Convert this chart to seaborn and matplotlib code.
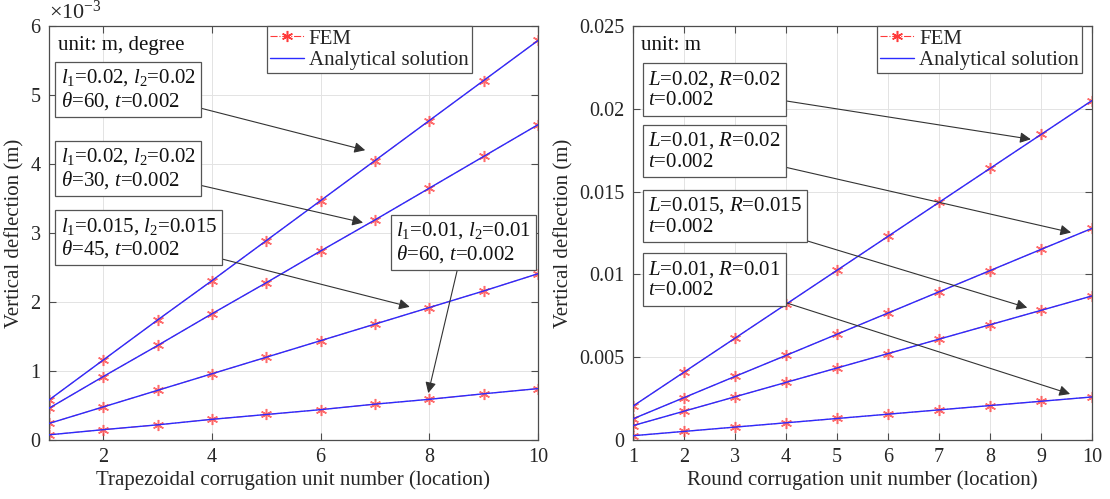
import numpy as np
import pandas as pd
import seaborn as sns
import matplotlib
matplotlib.use("Agg")
import matplotlib.pyplot as plt
from matplotlib.lines import Line2D
from matplotlib.ticker import FuncFormatter

sns.set_theme(style="white")
plt.rcParams['font.family'] = ['Liberation Serif', 'DejaVu Serif']
plt.rcParams['mathtext.fontset'] = 'custom'
plt.rcParams['mathtext.rm'] = 'Liberation Serif'
plt.rcParams['mathtext.it'] = 'Liberation Serif:italic'

# ---------------- data ----------------
units = [1, 2, 3, 4, 5, 6, 7, 8, 9, 10]

# Trapezoidal (values in m)
trap_a = [0.58e-3, 1.16e-3, 1.74e-3, 2.31e-3, 2.89e-3, 3.47e-3, 4.05e-3, 4.63e-3, 5.21e-3, 5.79e-3]
trap_b = [0.46e-3, 0.92e-3, 1.37e-3, 1.83e-3, 2.28e-3, 2.74e-3, 3.19e-3, 3.65e-3, 4.11e-3, 4.57e-3]
trap_c = [0.24e-3, 0.48e-3, 0.72e-3, 0.96e-3, 1.20e-3, 1.44e-3, 1.68e-3, 1.92e-3, 2.16e-3, 2.41e-3]
trap_d = [0.075e-3, 0.15e-3, 0.22e-3, 0.30e-3, 0.37e-3, 0.44e-3, 0.52e-3, 0.59e-3, 0.67e-3, 0.745e-3]

# Round (values in m)
round_a = [0.00205, 0.0041, 0.00615, 0.0082, 0.01025, 0.0123, 0.01435, 0.0164, 0.01845, 0.0205]
round_b = [0.00128, 0.00256, 0.00384, 0.00511, 0.00639, 0.00767, 0.00895, 0.01023, 0.01151, 0.01278]
round_c = [0.00087, 0.00174, 0.00261, 0.00348, 0.00435, 0.00522, 0.00609, 0.00696, 0.00783, 0.0087]
round_d = [0.00026, 0.00052, 0.00078, 0.00104, 0.0013, 0.00156, 0.00182, 0.00208, 0.00234, 0.0026]

trap_labels = [r"$l_{\mathregular{1}}$=0.02, $l_{\mathregular{2}}$=0.02" "\n" r"$\theta$=60, $t$=0.002",
               r"$l_{\mathregular{1}}$=0.02, $l_{\mathregular{2}}$=0.02" "\n" r"$\theta$=30, $t$=0.002",
               r"$l_{\mathregular{1}}$=0.015, $l_{\mathregular{2}}$=0.015" "\n" r"$\theta$=45, $t$=0.002",
               r"$l_{\mathregular{1}}$=0.01, $l_{\mathregular{2}}$=0.01" "\n" r"$\theta$=60, $t$=0.002"]
round_labels = [r"$L$=0.02, $R$=0.02" "\n" r"$t$=0.002",
                r"$L$=0.01, $R$=0.02" "\n" r"$t$=0.002",
                r"$L$=0.015, $R$=0.015" "\n" r"$t$=0.002",
                r"$L$=0.01, $R$=0.01" "\n" r"$t$=0.002"]

# arrow targets (data) and text box anchors (axes fraction)
trap_targets = [(6.82, 4.20e-3), (6.78, 3.15e-3), (7.64, 1.93e-3), (7.98, 0.68e-3)]
trap_text_pos = [(0.024, 0.900), (0.024, 0.709), (0.024, 0.542), (0.710, 0.530)]
round_targets = [(8.80, 0.01816), (9.59, 0.01253), (8.73, 0.00799), (9.57, 0.00278)]
round_text_pos = [(0.033, 0.896), (0.033, 0.748), (0.033, 0.591), (0.033, 0.437)]

FS = 15
TFS = 14.5
BLUE = "#2b2bff"
RED = "#ff3b3b"
AST = (6, 2, 0)

fig = plt.figure(figsize=(11.1, 4.99), dpi=100)
ax1 = fig.add_axes([0.0441, 0.1182, 0.4406, 0.8297])
ax2 = fig.add_axes([0.5703, 0.1182, 0.4135, 0.8297])


def draw_panel(ax, series):
    for s in series:
        sns.lineplot(x=units, y=s, ax=ax, color=RED, linestyle="-.", lw=0.8,
                     marker=AST, markersize=8, markeredgecolor=RED, markeredgewidth=1.1,
                     alpha=0.75, zorder=2)
        sns.lineplot(x=units, y=s, ax=ax, color=BLUE, lw=1.0, zorder=3)


def style_axes(ax):
    ax.grid(True, color="#e3e3e3", lw=0.7)
    ax.set_axisbelow(True)
    for sp in ax.spines.values():
        sp.set_color("#4d4d4d")
        sp.set_linewidth(0.9)
        sp.set_visible(True)
    ax.tick_params(direction="in", length=5, width=0.8, colors="#4d4d4d",
                   labelcolor="#262626", labelsize=TFS, top=True, right=True,
                   bottom=True, left=True, pad=6)


def annotate(ax, labels, targets, positions):
    for lab, tgt, pos in zip(labels, targets, positions):
        ax.annotate(lab, xy=tgt, xycoords="data", xytext=pos, textcoords="axes fraction",
                    ha="left", va="top", fontsize=FS, color="#111111", linespacing=1.1,
                    bbox=dict(boxstyle="square,pad=0.25", fc="white", ec="#555555", lw=0.9),
                    arrowprops=dict(arrowstyle="-|>", color="#333333", lw=0.8,
                                    mutation_scale=16, shrinkA=0, shrinkB=0),
                    zorder=5)


def legend(ax, x0):
    handles = [Line2D([], [], color=RED, linestyle="-.", marker=AST, markersize=8,
                      markeredgewidth=1.1, lw=0.8),
               Line2D([], [], color=BLUE, lw=1.0)]
    lg = ax.legend(handles, ["FEM", "Analytical solution"], loc="upper left",
                   bbox_to_anchor=(x0, 1.0), borderaxespad=0, fontsize=FS,
                   fancybox=False, frameon=True, handlelength=1.6, handletextpad=0.25,
                   borderpad=0.15, labelspacing=0.1, framealpha=1)
    lg.get_frame().set_edgecolor("#555555")
    lg.get_frame().set_linewidth(0.9)


# ---------- left panel ----------
draw_panel(ax1, [trap_a, trap_b, trap_c, trap_d])
style_axes(ax1)
ax1.set_xlim(1, 10)
ax1.set_ylim(0, 6e-3)
ax1.set_xticks([2, 4, 6, 8, 10])
ax1.set_yticks([0, 1e-3, 2e-3, 3e-3, 4e-3, 5e-3, 6e-3])
ax1.yaxis.set_major_formatter(FuncFormatter(lambda v, p: f"{v*1e3:g}"))
ax1.set_xlabel("Trapezoidal corrugation unit number (location)", fontsize=FS, color="#262626", labelpad=2)
ax1.set_ylabel("Vertical deflection (m)", fontsize=FS, color="#262626", labelpad=4)
ax1.text(0.0, 1.005, r"$\times$10$^{\mathregular{-3}}$", transform=ax1.transAxes,
         fontsize=16, color="#262626", ha="left", va="bottom")
ax1.text(0.018, 0.975, "unit: m, degree", transform=ax1.transAxes, fontsize=FS,
         ha="left", va="top", color="#111111")
annotate(ax1, trap_labels, trap_targets, trap_text_pos)
legend(ax1, 0.446)

# ---------- right panel ----------
draw_panel(ax2, [round_a, round_b, round_c, round_d])
style_axes(ax2)
ax2.set_xlim(1, 10)
ax2.set_ylim(0, 0.025)
ax2.set_xticks(units)
ax2.set_yticks([0, 0.005, 0.01, 0.015, 0.02, 0.025])
ax2.yaxis.set_major_formatter(FuncFormatter(lambda v, p: "0" if v == 0 else f"{v:g}"))
ax2.set_xlabel("Round corrugation unit number (location)", fontsize=FS, color="#262626", labelpad=2)
ax2.set_ylabel("Vertical deflection (m)", fontsize=FS, color="#262626", labelpad=4)
ax2.text(0.018, 0.975, "unit: m", transform=ax2.transAxes, fontsize=FS,
         ha="left", va="top", color="#111111")
annotate(ax2, round_labels, round_targets, round_text_pos)
legend(ax2, 0.532)

fig.savefig("out.png", dpi=100)
